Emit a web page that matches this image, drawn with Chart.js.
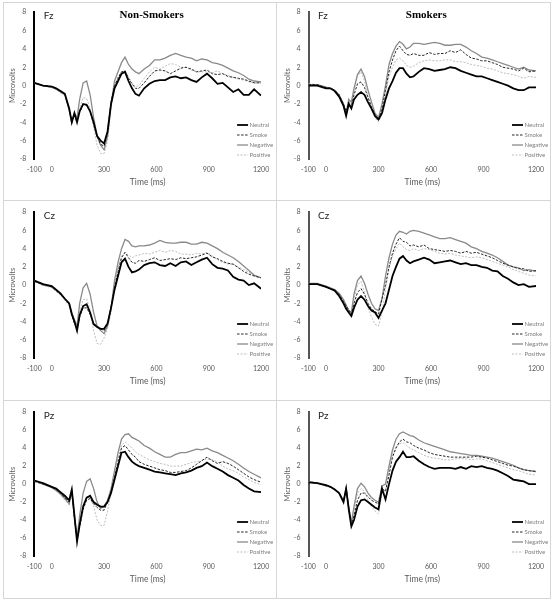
<!DOCTYPE html>
<html><head><meta charset="utf-8">
<script src="https://cdn.jsdelivr.net/npm/chart.js@4.4.0/dist/chart.umd.min.js"></script>
<style>
html,body{margin:0;padding:0;background:#fff;}
#wrap{position:relative;width:553px;height:601px;overflow:hidden;background:#fff;}
canvas{position:absolute;}
.ln{position:absolute;background:#d6d6d6;}
.box{position:absolute;border:1px solid #d6d6d6;box-sizing:border-box;}
</style></head><body>
<div id="wrap">
<div class="box" style="left:3px;top:2px;width:548px;height:597px;"></div>
<div class="ln" style="left:276px;top:2px;width:1px;height:597px;"></div>
<div class="ln" style="left:3px;top:200px;width:548px;height:1px;"></div>
<div class="ln" style="left:3px;top:400px;width:548px;height:1px;"></div>
</div>
<script>
// ---- data ----
const times = [-100,-50,0,25,50,75,100,115,130,145,160,180,200,220,240,260,280,300,320,340,360,380,400,420,440,460,480,500,530,560,590,620,650,680,710,740,770,800,830,860,890,920,950,980,1010,1040,1070,1100,1130,1160,1200];
const seriesNames = ["Neutral","Smoke","Negative","Positive"];
const xTickValues = [-100,0,300,600,900,1200];
const groupTitles = ["Non-Smokers","Smokers"];
const siteLabels = ["Fz","Cz","Pz"];

const fzNS_neutral  = [0.3,0,-0.1,-0.3,-0.6,-0.9,-2.5,-4.0,-3.0,-4.0,-2.8, -2.0,-2.1,-2.8,-4.0,-5.5,-6.0,-6.3,-5.0,-2.0,-0.3,0.5,1.3,1.5,0.5,-0.3,-0.9,-1.1, -0.3,0.2,0.5,0.6,0.6,0.9,1.0,0.8,0.9,0.6,0.4,0.9,1.3,0.8,0.2,0.3,-0.2,-0.7,-0.4,-1.0,-1.0,-0.4, -1.1];
const fzNS_smoke    = [0.3,0,-0.1,-0.3,-0.6,-1.0,-2.5,-3.9,-3.2,-4.0,-2.9, -2.1,-2.1,-2.8,-4.2,-5.5,-6.4,-6.6,-5.0,-1.8,0,0.8,1.5,1.6,0.8,0.2,-0.3,-0.3, 0.3,1.0,1.6,1.7,1.6,1.3,1.6,1.9,2.0,1.8,1.5,1.6,1.7,1.3,1.2,1.3,1.0,0.9,0.8,0.7,0.5,0.3, 0.3];
const fzNS_negative = [0.3,0,-0.2,-0.4,-0.7,-1.0,-2.6,-4.0,-3.0,-3.5,-1.5, 0.3,0.5,-1.0,-3.5,-5.5,-6.5,-7.0,-5.5,-2.0,0.5,1.5,2.5,3.1,2.3,1.8,1.5,1.3, 1.8,2.2,2.8,2.8,3.0,3.3,3.5,3.3,3.1,3.0,2.7,2.9,2.8,2.5,2.4,2.2,1.9,1.6,1.4,1.1,0.7,0.5, 0.4];
const fzNS_positive = [0.3,0,-0.2,-0.4,-0.8,-1.0,-2.8,-4.1,-3.2,-3.8,-2.5, -1.3,-1.4,-2.5,-4.5,-6.5,-7.4,-7.4,-6.0,-2.5,0,1.0,1.5,1.6,1.0,0.3,-0.1,0, 0.8,1.5,2.0,1.8,2.1,2.4,2.3,2.0,2.0,1.7,1.5,1.5,1.5,1.4,1.6,1.3,1.1,0.9,0.7,0.6,0.4,0.3, 0.3];

const fzS_neutral  = [0,0,-0.3,-0.3,-0.6,-1.2,-2.2,-3.3,-2.0,-2.5,-1.5, -1.0,-0.7,-1.0,-1.8,-2.5,-3.3,-3.7,-3.0,-1.5,-0.3,0.5,1.4,1.9,1.9,1.3,0.9,1.0, 1.5,1.9,1.8,1.6,1.7,1.8,2.0,1.9,1.6,1.4,1.2,1.0,1.0,0.8,0.6,0.4,0.2,0,-0.3,-0.5,-0.5,-0.2, -0.2];
const fzS_smoke    = [0.1,0.1,-0.2,-0.3,-0.5,-1.0,-2.0,-2.8,-1.8,-2.3,-1.0, 0.2,0.4,-0.2,-1.3,-2.3,-3.2,-3.7,-2.5,-0.5,1.5,2.8,3.8,4.3,3.8,3.4,3.3,3.5, 3.3,3.3,3.6,3.4,3.5,3.5,3.8,3.6,3.9,3.4,3.0,2.9,2.7,2.7,2.5,2.3,2.0,1.9,1.8,1.6,1.9,1.5, 1.6];
const fzS_negative = [0.1,0.1,-0.2,-0.3,-0.5,-1.0,-2.0,-3.0,-1.5,-1.8,-0.3, 1.2,1.8,1.0,-0.5,-1.8,-3.0,-3.5,-2.0,0,2.3,3.5,4.3,4.8,4.5,4.0,4.2,4.6, 4.6,4.5,4.6,4.7,4.6,4.4,4.4,4.5,4.5,4.2,3.8,3.5,3.1,3.0,2.8,2.6,2.4,2.2,2.0,1.8,2.0,1.7, 1.6];
const fzS_positive = [0.2,0.1,-0.1,-0.3,-0.5,-1.0,-2.0,-2.8,-1.6,-2.0,-0.5, 1.0,1.5,0.5,-1.2,-2.5,-3.5,-4.0,-3.0,-1.0,1.0,2.0,2.8,3.0,2.7,2.2,2.0,2.1, 2.5,2.7,2.8,2.7,2.7,2.8,2.8,2.6,2.6,2.5,2.3,2.2,2.1,1.9,1.8,1.6,1.4,1.3,1.2,1.0,0.8,1.0, 0.9];

const czNS_neutral  = [0.5,0.1,-0.1,-0.5,-0.9,-1.5,-2.0,-3.2,-4.0,-5.0,-3.3, -2.3,-2.1,-3.0,-4.3,-4.6,-4.8,-4.8,-4.2,-2.5,-0.5,1.0,2.5,2.9,2.0,1.4,1.5,1.7, 2.2,2.4,2.5,2.2,2.1,2.4,2.1,2.5,2.6,2.2,2.5,2.8,3.0,2.3,1.9,1.8,1.6,0.9,0.6,0.5,0,0.2, -0.4];
const czNS_smoke    = [0.4,0.1,-0.2,-0.6,-1.0,-1.5,-2.1,-3.3,-4.2,-4.8,-3.5, -2.5,-2.5,-3.2,-4.2,-4.5,-4.8,-5.0,-4.3,-2.4,-0.3,1.5,3.0,3.6,3.0,2.5,2.4,2.7, 2.6,2.8,3.0,2.7,2.8,2.9,2.8,3.0,2.9,3.0,3.1,3.3,3.5,3.1,2.9,2.6,2.4,2.3,1.9,1.5,1.2,1.0, 0.8];
const czNS_negative = [0.5,0,-0.2,-0.6,-1.0,-1.5,-2.0,-3.0,-3.8,-4.5,-2.0, -0.3,0.2,-1.0,-3.0,-4.5,-5.0,-5.3,-4.5,-2.5,0.5,2.5,4.0,5.0,4.8,4.3,4.2,4.3, 4.3,4.4,4.6,4.9,4.7,4.6,4.6,4.7,4.7,4.5,4.5,4.7,4.6,4.3,4.0,3.6,3.3,3.0,2.6,2.1,1.6,1.1, 0.8];
const czNS_positive = [0.4,0,-0.3,-0.7,-1.1,-1.7,-2.3,-3.4,-4.2,-4.8,-2.8, -1.6,-1.5,-2.8,-5.0,-6.4,-6.5,-5.8,-4.8,-3.0,0,2.0,3.2,3.5,3.3,3.0,3.2,3.3, 3.5,3.4,3.6,3.8,3.6,3.8,3.7,3.4,3.4,3.3,3.5,3.4,3.6,3.2,2.8,2.5,2.3,2.3,2.0,1.7,1.4,1.0, 0.8];

const czS_neutral  = [0.1,0.1,-0.2,-0.4,-0.6,-1.2,-2.0,-2.6,-3.0,-3.4,-2.5, -1.6,-1.2,-1.6,-2.3,-2.8,-3.0,-3.6,-2.8,-2.0,-0.5,1.0,2.0,2.9,3.2,2.7,2.4,2.6, 2.8,3.0,2.8,2.4,2.5,2.6,2.7,2.5,2.3,2.4,2.2,2.2,2.0,1.9,1.6,1.5,1.0,0.7,0.3,0,0.1,-0.2, -0.1];
const czS_smoke    = [0.1,0.1,-0.2,-0.4,-0.6,-1.0,-1.8,-2.3,-2.7,-3.2,-2.0, -0.8,-0.4,-1.0,-2.0,-2.6,-2.9,-3.2,-1.5,0,2.0,3.5,4.5,5.2,4.8,4.7,4.3,4.4, 4.2,4.4,4.0,3.9,3.8,3.7,3.8,3.7,3.5,3.7,3.5,3.6,3.4,3.2,3.0,2.7,2.4,2.2,2.0,1.8,1.8,1.5, 1.6];
const czS_negative = [0.2,0.2,-0.1,-0.3,-0.5,-0.9,-1.6,-2.2,-2.8,-3.0,-1.0, 0.5,1.0,0.2,-1.0,-2.0,-2.6,-2.8,-1.5,1.0,3.0,4.5,5.5,5.9,5.8,5.6,5.9,6.0, 5.9,5.7,5.5,5.3,5.1,5.1,5.2,5.0,4.8,4.6,4.2,4.0,3.7,3.5,3.3,3.0,2.6,2.2,2.0,1.9,1.6,1.7, 1.5];
const czS_positive = [0.2,0.1,-0.2,-0.4,-0.6,-1.1,-1.9,-2.4,-2.8,-3.2,-1.5, 0,0.4,-0.8,-2.5,-3.5,-4.3,-4.5,-3.0,-0.5,1.8,3.2,4.0,4.6,4.2,3.9,3.8,4.0, 3.8,4.0,3.9,3.7,3.5,3.4,3.5,3.3,3.2,3.1,3.0,3.1,3.0,2.8,2.6,2.4,2.2,2.0,1.7,1.5,1.3,1.1, 1.0];

const pzNS_neutral  = [0.4,0.1,-0.3,-0.5,-0.9,-1.3,-1.8,-0.6,-3.5,-6.4,-4.5, -2.5,-1.5,-1.3,-2.0,-2.3,-2.5,-2.5,-2.0,-1.0,0.5,2.0,3.5,3.6,3.0,2.5,2.2,2.0, 1.8,1.6,1.4,1.3,1.2,1.1,1.0,1.2,1.3,1.5,1.8,2.0,2.4,2.0,1.7,1.4,1.0,0.7,0.4,-0.1,-0.5,-0.8, -0.9];
const pzNS_smoke    = [0.3,0,-0.3,-0.6,-1.0,-1.5,-2.0,-0.8,-3.8,-6.2,-4.8, -2.8,-1.8,-1.6,-2.2,-2.6,-2.9,-2.9,-2.0,-0.8,0.8,2.5,4.0,4.3,3.8,3.3,3.0,2.5, 2.2,2.0,1.8,1.6,1.5,1.3,1.3,1.4,1.5,1.8,2.2,2.6,3.0,2.6,2.3,2.5,2.3,2.0,1.6,1.2,0.8,0.5, 0.2];
const pzNS_negative = [0.4,0,-0.4,-0.7,-1.1,-1.6,-2.2,-0.8,-3.5,-6.0,-3.5, -1.0,0.3,0.6,-0.5,-2.0,-2.7,-2.5,-1.8,-0.5,1.5,3.5,5.0,5.5,5.6,5.2,5.0,4.8, 4.3,4.0,3.6,3.3,3.0,3.0,3.3,3.5,3.5,3.7,3.9,3.8,4.0,3.7,3.5,3.2,2.9,2.6,2.2,1.8,1.4,1.1, 0.7];
const pzNS_positive = [0.3,0,-0.4,-0.7,-1.2,-1.8,-2.3,-1.0,-3.8,-6.0,-4.2, -2.3,-1.5,-1.5,-2.5,-4.0,-4.6,-4.6,-3.0,-1.0,1.0,3.0,4.3,4.7,4.4,4.0,3.6,3.3, 3.0,2.7,2.5,2.3,2.2,2.0,2.0,2.0,2.2,2.4,2.5,2.6,2.8,2.7,2.5,2.0,1.7,1.5,1.2,0.8,0.5,0.2, -0.1];

const pzS_neutral  = [0.2,0.1,-0.1,-0.3,-0.6,-1.0,-2.0,-0.5,-2.8,-4.7,-4.0, -2.5,-1.8,-1.7,-2.0,-2.3,-2.6,-2.8,-0.5,-1.7,0,1.5,2.5,3.0,3.6,3.0,3.0,3.1, 2.6,2.2,1.9,1.7,1.8,1.8,1.8,1.7,1.9,1.7,2.0,1.9,2.0,1.8,1.7,1.5,1.2,0.9,0.5,0.4,0.3,0, 0];
const pzS_smoke    = [0.2,0.1,-0.2,-0.3,-0.6,-1.0,-1.9,-0.4,-2.7,-4.5,-3.5, -1.8,-1.0,-1.0,-1.4,-1.8,-2.0,-2.2,-0.5,-0.8,1.0,3.0,4.0,4.7,5.0,4.7,4.6,4.3, 4.0,3.8,3.5,3.3,3.2,3.1,3.0,3.0,3.0,3.0,3.0,3.1,3.0,2.9,2.7,2.5,2.3,2.1,2.0,1.8,1.6,1.5, 1.4];
const pzS_negative = [0.3,0.1,-0.2,-0.3,-0.6,-1.0,-1.8,-0.5,-2.5,-4.3,-2.5, -0.5,0.1,-0.3,-1.0,-1.5,-1.8,-2.0,-0.2,0,2.0,3.8,5.0,5.6,5.8,5.6,5.4,5.3, 4.9,4.6,4.4,4.2,4.0,3.8,3.6,3.5,3.4,3.3,3.2,3.2,3.1,3.0,2.9,2.7,2.5,2.3,2.1,1.8,1.6,1.5, 1.4];
const pzS_positive = [0.3,0.1,-0.2,-0.3,-0.6,-1.0,-1.9,-0.6,-2.6,-4.3,-3.0, -1.0,-0.5,-0.8,-1.8,-2.5,-3.0,-3.3,-1.0,-0.7,1.5,3.3,4.2,4.5,4.6,4.3,4.0,3.8, 3.5,3.2,3.0,2.9,2.8,2.7,2.7,2.8,2.9,2.8,2.7,2.8,2.8,2.6,2.4,2.2,2.0,1.8,1.6,1.5,1.3,1.1, 1.0];

// ---- layout / styles ----
const FONT = 'Lato, "Liberation Sans", sans-serif';
const seriesStyles = [
  {borderColor:'#000000', borderWidth:1.8, borderDash:[]},
  {borderColor:'#262626', borderWidth:1, borderDash:[2.5,1.5]},
  {borderColor:'#8a8a8a', borderWidth:1.3, borderDash:[]},
  {borderColor:'#bdbdbd', borderWidth:1, borderDash:[2,1.5]}
];
const cols = [
  {left:0, w:276, yW:34.3, padR:12.7, axisColor:'#000000', yTitlePad:8.5},
  {left:276, w:277, yW:32.5, padR:17, axisColor:'#555555', yTitlePad:7.5}
];
const rows = [
  {top:0, h:200, padT:11, xH:41, xTitlePad:12.2},
  {top:200, h:200, padT:10, xH:42, xTitlePad:13.2},
  {top:400, h:201, padT:7, xH:45, xTitlePad:16.2}
];
const panelData = [
  [[fzNS_neutral,fzNS_smoke,fzNS_negative,fzNS_positive],[fzS_neutral,fzS_smoke,fzS_negative,fzS_positive]],
  [[czNS_neutral,czNS_smoke,czNS_negative,czNS_positive],[czS_neutral,czS_smoke,czS_negative,czS_positive]],
  [[pzNS_neutral,pzNS_smoke,pzNS_negative,pzNS_positive],[pzS_neutral,pzS_smoke,pzS_negative,pzS_positive]]
];

const decor = {
  id:'decor',
  afterDraw(chart, args, opts){
    const {ctx, chartArea:a} = chart;
    ctx.save();
    ctx.textBaseline='middle';
    ctx.textAlign='left';
    ctx.fillStyle='#262626';
    ctx.font='10px ' + FONT;
    ctx.fillText(opts.label, a.left+9.5, a.top+3.5);
    if (opts.title){
      ctx.font='bold 11px "Liberation Serif", "DejaVu Serif", serif';
      ctx.fillStyle='#000';
      ctx.textAlign='center';
      ctx.fillText(opts.title, (a.left+a.right)/2+4, a.top+2.5);
    }
    chart.data.datasets.forEach((ds,i)=>{
      const y = a.bottom - 34 + i*10;
      const x0 = a.right - 24;
      ctx.beginPath();
      ctx.setLineDash(ds.borderDash||[]);
      ctx.lineWidth = ds.borderWidth;
      ctx.strokeStyle = ds.borderColor;
      ctx.moveTo(x0,y); ctx.lineTo(x0+11,y); ctx.stroke();
      ctx.setLineDash([]);
      ctx.fillStyle='#808080';
      ctx.font='6px ' + FONT;
      ctx.textAlign='left';
      ctx.fillText(ds.label, x0+12.5, y+0.5);
    });
    ctx.restore();
  }
};

const wrap = document.getElementById('wrap');
rows.forEach((row, ri)=>{
  cols.forEach((col, ci)=>{
    const cv = document.createElement('canvas');
    cv.width = col.w; cv.height = row.h;
    cv.style.left = col.left+'px'; cv.style.top = row.top+'px';
    cv.style.width = col.w+'px'; cv.style.height = row.h+'px';
    wrap.appendChild(cv);
    const datasets = panelData[ri][ci].map((vals, si)=>Object.assign({
      label: seriesNames[si],
      data: times.map((t,k)=>({x:t, y:vals[k]})),
      pointRadius:0, tension:0, fill:false
    }, seriesStyles[si]));
    new Chart(cv.getContext('2d'), {
      type:'line',
      data:{datasets},
      options:{
        responsive:false, animation:false, devicePixelRatio:1,
        layout:{padding:{top:row.padT, right:col.padR, left:0, bottom:0}},
        plugins:{legend:{display:false}, tooltip:{enabled:false},
          decor:{label:siteLabels[ri], title: ri===0 ? groupTitles[ci] : null}},
        scales:{
          x:{type:'linear', min:-100, max:1200,
            afterBuildTicks:(s)=>{ s.ticks = xTickValues.map(v=>({value:v})); },
            afterFit:(s)=>{ s.height = row.xH; },
            grid:{display:false, drawTicks:false},
            border:{display:false},
            ticks:{font:{family:FONT, size:7}, color:'#595959', padding:6.8, maxRotation:0, autoSkip:false,
                   callback:(v)=>String(v)},
            title:{display:true, text:'Time (ms)', color:'#595959', font:{family:FONT, size:8.5}, padding:{top:0, bottom:row.xTitlePad}}
          },
          y:{min:-8, max:8,
            afterFit:(s)=>{ s.width = col.yW; },
            grid:{display:true, drawOnChartArea:false, drawTicks:false, color:'rgba(0,0,0,0)'},
            border:{display:true, color:col.axisColor, width:2},
            ticks:{stepSize:2, font:{family:FONT, size:7}, color:'#595959', padding:8, callback:(v)=>String(v)},
            title:{display:true, text:'Microvolts', color:'#595959', font:{family:FONT, size:7.5}, padding:{top:col.yTitlePad, bottom:0}}
          }
        }
      },
      plugins:[decor]
    });
  });
});
</script>
</body></html>
